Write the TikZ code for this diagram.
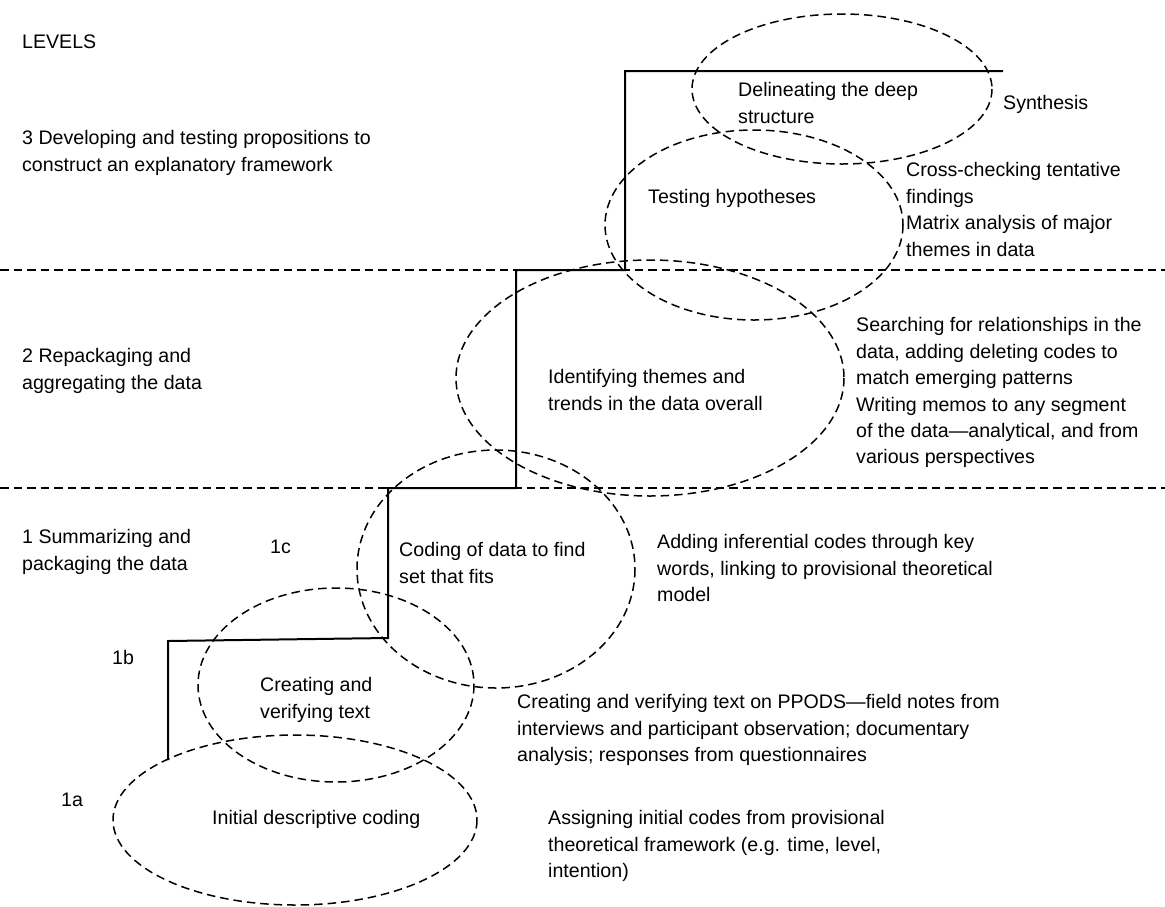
\documentclass[tikz,border=0pt]{standalone}
\usepackage{fontspec}
\setmainfont{Liberation Sans}
\begin{document}
\begin{tikzpicture}[x=1pt,y=-1pt,
  lbl/.style={anchor=north west, inner sep=0pt, align=left,
    font=\fontsize{19.6pt}{26.4pt}\selectfont},
  dashline/.style={line width=1.5pt, dash pattern=on 8.5pt off 5pt},
  stair/.style={line width=2pt, line join=miter}]
\useasboundingbox (0,0) rectangle (1165,906);

% level separators
\draw[dashline] (0,270) -- (1165,270);
\draw[dashline] (0,488) -- (1165,488);

% the staircase of analysis
\draw[stair] (168,760) -- (168,641) -- (388,638) -- (388,488) -- (516,488)
  -- (516,270) -- (625,270) -- (625,71) -- (1003,71);

% activity ellipses
\draw[dashline] (842,89) ellipse [x radius=150, y radius=75];
\draw[dashline] (754,225) ellipse [x radius=149, y radius=95];
\draw[dashline] (650,378) ellipse [x radius=194, y radius=118];
\draw[dashline] (496,569) ellipse [x radius=139, y radius=119];
\draw[dashline] (336,685) ellipse [x radius=138, y radius=97];
\draw[dashline] (295,820) ellipse [x radius=182, y radius=85];

% level labels
\node[lbl] (levels) at (22,34.5) {LEVELS};
\node[lbl] (lev3) at (22,130.5) {3 Developing and testing propositions to\\construct an explanatory framework};
\node[lbl] (lev2) at (22,348.5) {2 Repackaging and\\aggregating the data};
\node[lbl] (lev1) at (22,529.5) {1 Summarizing and\\packaging the data};
\node[lbl] (s1c) at (270,539.5) {1c};
\node[lbl] (s1b) at (112,650.5) {1b};
\node[lbl] (s1a) at (61,792.5) {1a};

% ellipse labels
\node[lbl] (tDeep) at (738,82.5) {Delineating the deep\\structure};
\node[lbl] (tTest) at (648,189.5) {Testing hypotheses};
\node[lbl] (tThemes) at (548,369.5) {Identifying themes and\\trends in the data overall};
\node[lbl] (tCoding) at (399,542.5) {Coding of data to find\\set that fits};
\node[lbl] (tCreate) at (260,677.5) {Creating and\\verifying text};
\node[lbl] (tInit) at (212,810.5) {Initial descriptive coding};

% descriptions of the activities
\node[lbl] (synth) at (1003,95.5) {Synthesis};
\node[lbl] (cross) at (906,162.5) {Cross-checking tentative\\findings\\Matrix analysis of major\\themes in data};
\node[lbl] (search) at (856,317.5) {Searching for relationships in the\\data, adding deleting codes to\\match emerging patterns\\Writing memos to any segment\\of the data—analytical, and from\\various perspectives};
\node[lbl] (adding) at (657,534.5) {Adding inferential codes through key\\words, linking to provisional theoretical\\model};
\node[lbl] (ppods) at (517,694.5) {Creating and verifying text on PPODS—field notes from\\interviews and participant observation; documentary\\analysis; responses from questionnaires};
\node[lbl] (assign) at (548,810.5) {Assigning initial codes from provisional\\theoretical framework (e.g. time, level,\\intention)};
\end{tikzpicture}
\end{document}
